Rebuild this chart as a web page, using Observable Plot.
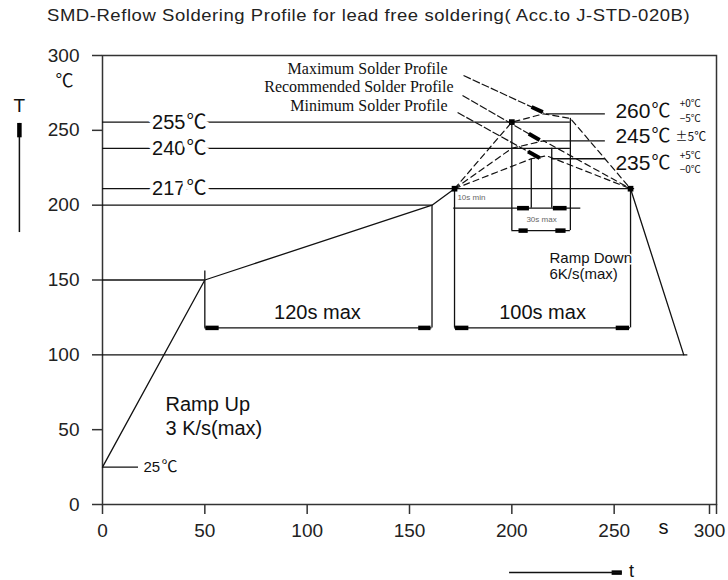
<!DOCTYPE html>
<html><head><meta charset="utf-8">
<script src="https://cdn.jsdelivr.net/npm/d3@7"></script>
<script src="https://cdn.jsdelivr.net/npm/@observablehq/plot@0.6"></script>
<style>
body{margin:0;background:#fff;width:728px;height:580px;overflow:hidden}
#title{height:34px;font:16.5px "Liberation Sans",Arial,sans-serif;color:#222;padding-left:47px;line-height:30px;white-space:nowrap;overflow:visible}
#title span{display:inline-block;transform:scaleX(1.12);transform-origin:0 50%;letter-spacing:0.5px}
</style></head><body>
<div id="title"><span>SMD-Reflow Soldering Profile for lead free soldering( Acc.to J-STD-020B)</span></div>
<div id="chart"></div>
<script>
// ---- data ----
const timeTicks = [0, 50, 100, 150, 200, 250, 300];
const tempTicks = [0, 50, 100, 150, 200, 250, 300];

// solid profile: ramp up + preheat, and ramp down
const rampTime = [0, 50, 161, 172];
const rampTemp = [25, 150, 200, 211];
const coolTime = [258, 284];
const coolTemp = [211, 100];

// dashed peak profiles
const maxTime = [172, 200, 215.5, 228.6, 258];
const maxTemp = [211, 255.5, 261, 258, 211];
const recTime = [172, 200, 215.5, 258];
const recTemp = [211, 238, 243, 211];
const minTime = [172, 209.5, 217, 258];
const minTemp = [211, 231, 233, 211];

// reference temperature lines on the left
const refValues = ["255", "240", "217", "25"];
const refTemps = [255.5, 238, 211, 25];
const refEnds = [228.6, 228.6, 260, 17.6];
const unit = "℃";
// other horizontal guides
const guideTemps = [200, 150, 100];
const guideEnds = [161, 50, 286];

// peak labels on the right
const peakValues = ["260", "245", "235"];
const peakTemps = [261, 243, 231];
const peakStarts = [216.9, 215.5, 219.4];
const tolUpper = ["+0℃", "±5℃", "+5℃"];
const tolLower = ["−5℃", "", "−0℃"];

// profile names
const profileNames = ["Maximum Solder Profile", "Recommended Solder Profile", "Minimum Solder Profile"];

// time windows
const windowLabels = ["120s max", "100s max"];
const windowStart = [50, 172];
const windowEnd = [161, 258];
const windowTemp = 118;
const peakWinTimes = [200, 209.5, 219.5, 228.6];
const peakWinTops = [255.5, 231, 238, 258];

// ---- layout helpers (pixel offsets of the peak labels from their lines) ----
const peakOffsets = [{main: -3, up: -10, lo: 5}, {main: -5, up: -4, lo: 0}, {main: 4, up: -3, lo: 11}];
const pxPerDeg = 449 / 300;

const zip = (xs, ys) => xs.map((x, i) => ({x, y: ys[i]}));
const font = '"Liberation Sans", Arial, sans-serif';
const cjk = '"Noto Sans CJK SC", "DejaVu Sans", sans-serif';
const serif = '"Liberation Serif", "Times New Roman", serif';

const refs = refValues.map((t, i) => ({t, y: refTemps[i], x2: refEnds[i]}));
const bigRefs = refs.slice(0, 3), smallRef = refs.slice(3);
const guides = guideTemps.map((y, i) => ({y, x2: guideEnds[i]}));
const verticals = [
  {x: windowStart[0], y1: 156, y2: windowTemp},
  {x: windowEnd[0], y1: 200, y2: windowTemp},
  {x: windowStart[1], y1: 211, y2: windowTemp},
  {x: windowEnd[1], y1: 211, y2: windowTemp},
  {x: peakWinTimes[0], y1: peakWinTops[0], y2: 183},
  {x: peakWinTimes[1], y1: peakWinTops[1], y2: 198},
  {x: peakWinTimes[2], y1: peakWinTops[2], y2: 198},
  {x: peakWinTimes[3], y1: peakWinTops[3], y2: 183}
];
const brackets = [
  {y: windowTemp, x1: windowStart[0], x2: windowEnd[0]},
  {y: windowTemp, x1: windowStart[1], x2: windowEnd[1]},
  {y: 198, x1: 171.6, x2: 233.7},
  {y: 183, x1: peakWinTimes[0], x2: peakWinTimes[3]}
];
const heads = [
  {y: windowTemp, x1: 50.5, x2: 57}, {y: windowTemp, x1: 154.5, x2: 160.5},
  {y: windowTemp, x1: 172.5, x2: 179}, {y: windowTemp, x1: 251, x2: 257.5},
  {y: 198, x1: 202.8, x2: 208.6}, {y: 198, x1: 220.3, x2: 227},
  {y: 183, x1: 203.5, x2: 208}, {y: 183, x1: 221.5, x2: 226.5},
  {y: -45.5, x1: 249, x2: 254}
];
const leaders = [
  {x1: 176.4, y1: 286.6, x2: 215.5, y2: 261.9},
  {x1: 175.9, y1: 273.3, x2: 214, y2: 243.2},
  {x1: 173.5, y1: 261.9, x2: 214, y2: 231.2}
];
const leaderHeads = leaders.map(d => {
  const a = 0.85, b = 0.99;
  return {x1: d.x1 + a * (d.x2 - d.x1), y1: d.y1 + a * (d.y2 - d.y1),
          x2: d.x1 + b * (d.x2 - d.x1), y2: d.y1 + b * (d.y2 - d.y1)};
});
const peaks = peakValues.map((t, i) => ({
  t, y: peakTemps[i], x1: peakStarts[i], up: tolUpper[i], lo: tolLower[i],
  yMain: peakTemps[i] - peakOffsets[i].main / pxPerDeg,
  yUp: peakTemps[i] - peakOffsets[i].up / pxPerDeg,
  yLo: peakTemps[i] - peakOffsets[i].lo / pxPerDeg
}));

const ink = "#111";
const chart = Plot.plot({
  width: 728, height: 546,
  marginTop: 21, marginBottom: 76, marginLeft: 102, marginRight: 12,
  x: {domain: [0, 300]},
  y: {domain: [0, 300]},
  style: {fontFamily: font, fontSize: "19px", background: "#fff", color: "#222", overflow: "visible"},
  marks: [
    Plot.frame({stroke: "#333", strokeWidth: 1.5}),
    Plot.axisX(timeTicks, {tickSize: 10, tickPadding: 9, label: null, stroke: "#333", strokeWidth: 1.5, fontSize: 19, tickFormat: d => d === 300 ? "" : String(d)}),
    Plot.axisX([300], {tickSize: 10, tickPadding: 9, label: null, stroke: "#333", strokeWidth: 1.5, fontSize: 19, dx: -7}),
    Plot.axisY(tempTicks, {tickSize: 10, tickPadding: 13, label: null, stroke: "#333", strokeWidth: 1.5, fontSize: 19}),
    // guide lines
    Plot.ruleY(refs, {y: "y", x1: 0, x2: "x2", stroke: ink, strokeWidth: 1.3}),
    Plot.ruleY(guides, {y: "y", x1: 0, x2: "x2", stroke: ink, strokeWidth: 1.3}),
    Plot.ruleY(peaks, {y: "y", x1: "x1", x2: 245.7, stroke: ink, strokeWidth: 1.3}),
    Plot.ruleX(verticals, {x: "x", y1: "y1", y2: "y2", stroke: ink, strokeWidth: 1.3}),
    Plot.ruleY(brackets, {y: "y", x1: "x1", x2: "x2", stroke: ink, strokeWidth: 1.3}),
    Plot.ruleY(heads, {y: "y", x1: "x1", x2: "x2", stroke: "#000", strokeWidth: 4.5}),
    // profiles
    Plot.line(zip(maxTime, maxTemp), {x: "x", y: "y", stroke: ink, strokeWidth: 1.2, strokeDasharray: "6,4"}),
    Plot.line(zip(recTime, recTemp), {x: "x", y: "y", stroke: ink, strokeWidth: 1.2, strokeDasharray: "6,4"}),
    Plot.line(zip(minTime, minTemp), {x: "x", y: "y", stroke: ink, strokeWidth: 1.2, strokeDasharray: "6,4"}),
    Plot.line(zip(rampTime, rampTemp), {x: "x", y: "y", stroke: ink, strokeWidth: 1.3}),
    Plot.line(zip(coolTime, coolTemp), {x: "x", y: "y", stroke: ink, strokeWidth: 1.3}),
    Plot.dot([{x: rampTime[3], y: rampTemp[3]}, {x: coolTime[0], y: coolTemp[0]}, {x: maxTime[1], y: maxTemp[1]}],
      {x: "x", y: "y", r: 3.2, fill: "#000", symbol: "square"}),
    // leaders
    Plot.link(leaders, {x1: "x1", y1: "y1", x2: "x2", y2: "y2", stroke: ink, strokeWidth: 1.2, strokeDasharray: "8,2"}),
    Plot.link(leaderHeads, {x1: "x1", y1: "y1", x2: "x2", y2: "y2", stroke: "#000", strokeWidth: 4}),
    // left temperature labels (number + unit)
    Plot.text(bigRefs, {x: 40.5, y: "y", text: "t", fontSize: 20, textAnchor: "end", fill: ink, stroke: "#fff", strokeWidth: 10}),
    Plot.text(bigRefs, {x: 40.5, y: "y", dx: 1, text: () => unit, fontFamily: cjk, fontSize: 20, textAnchor: "start", fill: ink, stroke: "#fff", strokeWidth: 10}),
    Plot.text(smallRef, {x: 20, y: "y", text: "t", fontSize: 15, textAnchor: "start", fill: ink}),
    Plot.text(smallRef, {x: 20, y: "y", dx: 18, text: () => unit, fontFamily: cjk, fontSize: 16, textAnchor: "start", fill: ink}),
    // right peak labels
    Plot.text(peaks, {x: 250.6, y: "yMain", text: "t", fontSize: 21, textAnchor: "start", fill: ink}),
    Plot.text(peaks, {x: 250.6, y: "yMain", dx: 36, text: () => unit, fontFamily: cjk, fontSize: 19, textAnchor: "start", fill: ink}),
    Plot.text(peaks.filter(d => d.lo), {x: 282, y: "yUp", text: "up", fontFamily: cjk, fontSize: 10, textAnchor: "start", fill: ink}),
    Plot.text(peaks.filter(d => d.lo), {x: 282, y: "yLo", text: "lo", fontFamily: cjk, fontSize: 10, textAnchor: "start", fill: ink}),
    Plot.text(peaks.filter(d => !d.lo), {x: 280, y: "yUp", text: "up", fontFamily: cjk, fontSize: 12, textAnchor: "start", fill: ink}),
    // profile names
    Plot.text(profileNames, {x: [168.6, 171.5, 168.6], y: [291.3, 279.3, 266.6], text: d => d, fontFamily: serif, fontSize: 16, textAnchor: "end", fill: ink}),
    // annotations
    Plot.text(windowLabels, {x: [105, 215], y: 128.3, text: d => d, fontSize: 20, fill: ink}),
    Plot.text(["Ramp Up", "3 K/s(max)"], {x: 30.8, y: [66.8, 50.8], text: d => d, fontSize: 20, textAnchor: "start", fill: ink}),
    Plot.text(["Ramp Down"], {x: 218.4, y: 164.4, text: d => d, fontSize: 15, letterSpacing: "2px", textAnchor: "start", fill: ink, stroke: "#fff", strokeWidth: 3}),
    Plot.text(["6K/s(max)"], {x: 218.4, y: 153.7, text: d => d, fontSize: 15, letterSpacing: "0.8px", textAnchor: "start", fill: ink, stroke: "#fff", strokeWidth: 3}),
    Plot.text(["10s min"], {x: 173.4, y: 205.1, text: d => d, fontSize: 8, textAnchor: "start", fill: "#666"}),
    Plot.text(["30s max"], {x: 214.5, y: 190.4, text: d => d, fontSize: 8, fill: "#666"}),
    // axis names
    Plot.text(["T"], {x: -40.6, y: 266.6, text: d => d, fontSize: 19, fill: ink}),
    Plot.text([unit], {x: -18.6, y: 282.6, text: d => d, fontFamily: cjk, fontSize: 18, fill: ink}),
    Plot.text(["s"], {x: 274.1, y: -15.5, text: d => d, fontSize: 20, fill: ink}),
    Plot.text(["t"], {x: 258.5, y: -44.5, text: d => d, fontSize: 18, fill: ink}),
    Plot.ruleY([{x1: 198.9, x2: 254, y: -45.5}], {x1: "x1", x2: "x2", y: "y", stroke: ink, strokeWidth: 1.5}),
    Plot.ruleX([{x: -40.6, y1: 181.7, y2: 254.6}], {x: "x", y1: "y1", y2: "y2", stroke: ink, strokeWidth: 1.5}),
    Plot.ruleX([{x: -40.6, y1: 245, y2: 254.6}], {x: "x", y1: "y1", y2: "y2", stroke: "#000", strokeWidth: 4.5})
  ]
});
document.getElementById("chart").appendChild(chart);
</script></body></html>
